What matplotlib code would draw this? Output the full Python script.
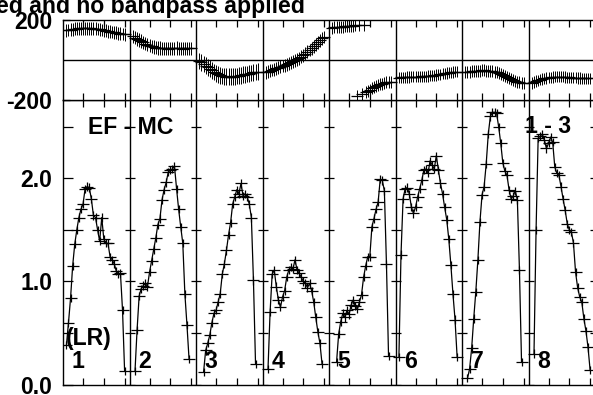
import matplotlib
matplotlib.use('Agg')
import matplotlib.pyplot as plt
import numpy as np

nan = np.nan
NCH = 32

# amplitude per IF (channels 1..32)
amp1 = [nan, 0.38, 0.60, 0.84, 1.15, 1.36, 1.50, 1.62, 1.70, 1.75, 1.90, 1.92, 1.91, 1.80, 1.64, 1.62,
        1.50, 1.39, 1.62, 1.41, 1.37, 1.37, 1.24, 1.21, 1.17, 1.10, 1.07, 1.08, 0.72, 0.13, nan, nan]
amp2 = [nan, nan, 0.13, 0.53, 0.86, 0.93, 0.96, 0.98, 0.95, 1.09, 1.20, 1.31, 1.42, 1.55, 1.61, 1.79,
        1.89, 1.96, 2.06, 2.08, 2.09, 2.12, 1.90, 1.70, 1.53, 1.37, 0.88, 0.58, 0.25, nan, nan, nan]
amp3 = [nan, nan, nan, 0.12, 0.33, 0.40, 0.48, 0.60, 0.69, 0.72, 0.80, 0.88, 1.07, 1.17, 1.30, 1.45,
        1.57, 1.75, 1.82, 1.89, 1.85, 1.95, 1.83, 1.85, 1.82, 1.75, 1.62, 1.01, 0.20, nan, nan, nan]
amp4 = [nan, nan, 0.15, 0.70, 1.07, 1.11, 0.95, 0.82, 0.75, 0.85, 0.91, 1.04, 1.11, 1.14, 1.12, 1.21,
        1.11, 1.08, 1.04, 1.00, 0.98, 0.94, 0.98, 0.91, 0.80, 0.65, 0.51, 0.40, 0.20, nan, nan, nan]
amp5 = [nan, nan, nan, 0.22, 0.49, 0.61, 0.69, 0.65, 0.72, 0.68, 0.77, 0.82, 0.76, 0.73, 0.80, 0.87,
        1.04, 1.15, 1.24, 1.24, 1.53, 1.61, 1.70, 1.77, 1.99, 1.98, 1.88, 1.17, 0.28, nan, nan, nan]
amp6 = [nan, 0.27, 1.26, 1.80, 1.90, 1.91, 1.85, 1.72, 1.66, 1.72, 1.82, 1.90, 1.98, 2.08, 2.09, 2.05,
        2.17, 2.13, 2.09, 2.22, 2.08, 1.95, 1.85, 1.72, 1.60, 1.41, 1.16, 0.88, 0.63, 0.27, nan, nan]
amp7 = [nan, nan, 0.06, 0.15, 0.35, 0.64, 0.90, 1.21, 1.58, 1.84, 1.92, 2.14, 2.43, 2.60, 2.64, 2.64,
        2.63, 2.50, 2.34, 2.15, 2.07, 2.03, 1.89, 1.80, 1.83, 1.88, 1.79, 1.11, 0.22, nan, nan, nan]
amp8 = [nan, nan, 0.30, 1.50, 2.39, 2.41, 2.43, 2.37, 2.29, 2.34, 2.40, 2.35, 2.11, 2.05, 2.03, 1.92,
        1.80, 1.69, 1.56, 1.50, 1.48, 1.37, 1.09, 0.94, 0.85, 0.80, 0.64, 0.52, 0.36, 0.14, nan, nan]

# phase per IF (degrees)
ph1 = [nan, 148, 150, 152, 154, 156, 157, 158, 158, 158, 159, 158, 158, 158, 157, 156,
       155, 153, 150, 148, 146, 144, 142, 140, 138, 136, 134, 132, 130, 128, nan, nan]
ph2 = [nan, 118, 112, 106, 100, 94, 88, 82, 77, 72, 68, 65, 62, 60, 59, 58,
       58, 58, 57, 58, 58, 58, 59, 58, 58, 57, 58, 58, 58, 58, nan, nan]
ph3 = [nan, -5, -12, -20, -28, -36, -44, -52, -60, -66, -72, -76, -80, -82, -83, -84,
       -84, -83, -82, -80, -78, -76, -74, -72, -70, -68, -65, -62, -60, -58, nan, nan]
ph4 = [nan, -62, -58, -54, -50, -46, -42, -38, -34, -30, -26, -21, -17, -12, -7, -2,
       3, 8, 16, 24, 32, 41, 50, 58, 68, 78, 88, 98, 108, 115, nan, nan]
ph5 = [nan, 162, 163, 164, 165, 166, 167, 168, 169, 170, 171, 172, 173, -178, 176, -172,
       177, -162, -155, -148, -142, -136, -130, -125, -121, -118, -115, -112, -110, -108, nan, nan]
ph6 = [nan, -88, -87, -86, -86, -85, -85, -84, -84, -83, -83, -83, -82, -82, -81, -80,
       -79, -78, -77, -75, -73, -71, -69, -67, -65, -63, -61, -60, -59, -58, nan, nan]
ph7 = [nan, -62, -60, -58, -57, -56, -55, -54, -53, -52, -52, -53, -54, -55, -57, -59,
       -62, -66, -70, -75, -80, -85, -90, -95, -100, -104, -108, -112, -115, -117, nan, nan]
ph8 = [nan, -115, -110, -105, -101, -98, -95, -92, -90, -88, -86, -85, -84, -83, -83, -83,
       -84, -85, -86, -87, -88, -88, -89, -90, -90, -91, -91, -92, -92, -92, nan, nan]

amps = [amp1, amp2, amp3, amp4, amp5, amp6, amp7, amp8]
phases = [ph1, ph2, ph3, ph4, ph5, ph6, ph7, ph8]
amp_err = 0.04
ph_err = [32, 34, 42, 32, 30, 28, 30, 28]
if_labels = ['1', '2', '3', '4', '5', '6', '7', '8']

plt.rcParams['font.family'] = ['Liberation Sans', 'DejaVu Sans']
plt.rcParams['font.weight'] = 'bold'
plt.rcParams['font.size'] = 16.6

W, H = 593.0, 395.0
fig = plt.figure(figsize=(W / 100, H / 100), dpi=100)
x0, x1 = 63.3, 595.3
ax_amp = fig.add_axes([x0 / W, 1 - 384.5 / H, (x1 - x0) / W, (384.5 - 100) / H])
ax_ph = fig.add_axes([x0 / W, 1 - 100 / H, (x1 - x0) / W, 80 / H])

nif = len(amps)
xmax = nif * NCH + 0.5
chan = np.arange(1, NCH + 1)

for p in range(nif):
    x = p * NCH + chan
    ax_amp.errorbar(x, amps[p], yerr=amp_err, color='black', lw=0.9, marker='_', ms=8, mew=0.9,
                    elinewidth=0.9, capsize=0)
    ax_ph.errorbar(x, phases[p], yerr=ph_err[p], color='black', ls='none', marker='_', ms=8, mew=0.9,
                   elinewidth=0.7, capsize=0)

ax_amp.set_xlim(0.5, xmax)
ax_amp.set_ylim(0, 2.76)
ax_ph.set_xlim(0.5, xmax)
ax_ph.set_ylim(-200, 200)
ax_ph.axhline(0, color='black', lw=1)

xt = [p * NCH + c for p in range(nif) for c in (10, 20, 30)]
yt = [0, 0.5, 1.0, 1.5, 2.0, 2.5]
for ax in (ax_amp, ax_ph):
    ax.set_xticks(xt)
    ax.tick_params(axis='x', direction='in', length=5, width=0.9, top=True, bottom=True,
                   labelbottom=False)
    for s in ax.spines.values():
        s.set_color('black')
        s.set_linewidth(1)
    for p in range(1, nif):
        ax.axvline(p * NCH + 0.5, color='black', lw=1)

# y ticks crossing each IF boundary
for p in range(1, nif + 1):
    b = p * NCH + 0.5
    ax_amp.hlines(yt, b - 2.4, b + 2.4 if p < nif else b, color='black', lw=0.9)

ax_amp.set_yticks(yt)
ax_amp.set_yticklabels(['0.0', '', '1.0', '', '2.0', ''])
ax_amp.tick_params(axis='y', direction='in', length=7, width=0.9, pad=8)

ax_ph.set_yticks([-200, 200])
ax_ph.set_yticklabels(['-200', '200'])
ax_ph.tick_params(axis='y', direction='in', length=5, width=0.9, pad=8)

ax_amp.text(33.0, 2.427, 'EF - MC', ha='center', va='baseline')
ax_amp.text(234.0, 2.436, '1 - 3', ha='center', va='baseline')
ax_amp.text(1.56, 0.383, '(LR)', ha='left', va='baseline')
for p in range(nif):
    ax_amp.text(p * NCH + 4.6, 0.16, if_labels[p], ha='left', va='baseline')

fig.text(305 / W, 1 - 12.5 / H, 'ed and no bandpass applied', ha='right', va='baseline')

fig.savefig('out.png', dpi=100)
